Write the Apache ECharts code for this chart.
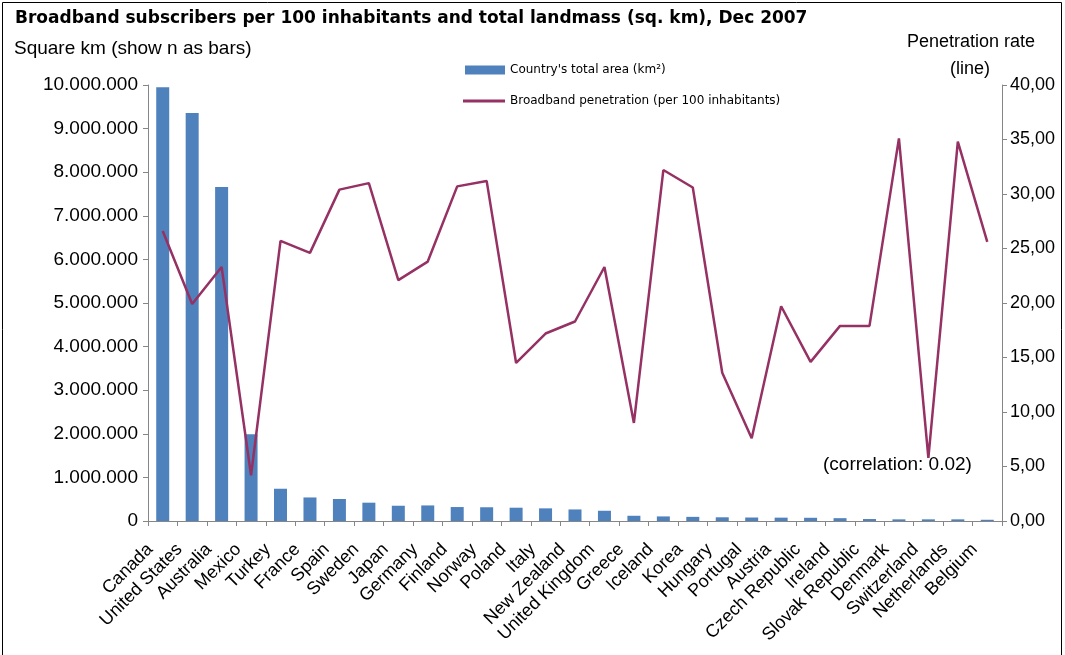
<!DOCTYPE html>
<html><head><meta charset="utf-8">
<script src="https://cdn.jsdelivr.net/npm/echarts@6/dist/echarts.min.js"></script>
<style>html,body{margin:0;padding:0;background:#fff}#c{width:1065px;height:655px}</style>
</head><body><div id="c"></div>
<script>
const countries = ['Canada','United States','Australia','Mexico','Turkey','France','Spain','Sweden','Japan','Germany','Finland','Norway','Poland','Italy','New Zealand','United Kingdom','Greece','Iceland','Korea','Hungary','Portugal','Austria','Czech Republic','Ireland','Slovak Republic','Denmark','Switzerland','Netherlands','Belgium'];
const areaKm2 = [9950000,9360000,7660000,1990000,740000,540000,505000,420000,350000,357000,320000,315000,305000,290000,265000,235000,120000,105000,95000,85000,80000,77000,74000,65000,45000,38000,38000,38000,28000];
const penetration = [26.6,19.9,23.3,4.2,25.7,24.6,30.4,31.0,22.1,23.8,30.7,31.2,14.5,17.2,18.3,23.3,9.0,32.2,30.6,13.6,7.6,19.7,14.6,17.9,17.9,35.1,5.8,34.8,25.6];
const leftTicks = {min:0, max:10000000, interval:1000000};
const rightTicks = {min:0, max:40, interval:5};

const chart = echarts.init(document.getElementById('c'));
const F = 'Liberation Sans, Arial, sans-serif';
const axisGray = '#868686';
const barName = "Country's total area (km²)";
const lineName = 'Broadband penetration (per 100 inhabitants)';
function dots(v){return String(Math.round(v)).replace(/\B(?=(\d{3})+(?!\d))/g,'.');}
chart.setOption({
  animation:false,
  title:{text:'Broadband subscribers per 100 inhabitants and total landmass (sq. km), Dec 2007',left:10,top:5,
    textStyle:{fontFamily:'DejaVu Sans',fontWeight:'bold',fontSize:17,color:'#000'}},
  legend:[
    {orient:'vertical',left:465,top:64,padding:0,itemWidth:40,itemHeight:9,itemGap:6,
     textStyle:{fontFamily:'DejaVu Sans',fontSize:12,color:'#000'},
     data:[{name:barName,icon:'rect'}]},
    {orient:'vertical',left:463,top:95,padding:0,itemWidth:42,itemHeight:3,itemGap:6,
     textStyle:{fontFamily:'DejaVu Sans',fontSize:12,color:'#000'},
     data:[{name:lineName,icon:'rect'}]}
  ],
  grid:{left:148,right:63,top:85,bottom:134},
  xAxis:{type:'category',data:countries,boundaryGap:true,
    axisLine:{lineStyle:{color:axisGray,width:1}},
    axisTick:{show:true,length:5,lineStyle:{color:axisGray}},
    axisLabel:{rotate:45,interval:0,fontFamily:F,fontSize:18,color:'#000',margin:13,padding:[0,18,0,0]}},
  yAxis:[
    {type:'value',min:leftTicks.min,max:leftTicks.max,interval:leftTicks.interval,splitLine:{show:false},
     axisLine:{show:true,lineStyle:{color:axisGray}},axisTick:{show:true,length:5,lineStyle:{color:axisGray}},
     axisLabel:{fontFamily:F,fontSize:19,color:'#000',margin:10,formatter:dots}},
    {type:'value',min:rightTicks.min,max:rightTicks.max,interval:rightTicks.interval,position:'right',splitLine:{show:false},
     axisLine:{show:true,lineStyle:{color:axisGray}},axisTick:{show:true,length:5,lineStyle:{color:axisGray}},
     axisLabel:{fontFamily:F,fontSize:18,color:'#000',margin:8,formatter:v=>v.toFixed(2).replace('.',',')}}
  ],
  series:[
    {name:barName,type:'bar',data:areaKm2,yAxisIndex:0,barWidth:13,itemStyle:{color:'#4F81BD'}},
    {name:lineName,type:'line',data:penetration,yAxisIndex:1,symbol:'none',
     lineStyle:{color:'#953163',width:2.5},itemStyle:{color:'#953163'}}
  ],
  graphic:[
    {type:'rect',shape:{x:2.5,y:2.5,width:1059,height:670},style:{fill:'none',stroke:'#000',lineWidth:1},silent:true},
    {type:'text',left:14,top:39,style:{text:'Square km (show n as bars)',font:'19px '+F,fill:'#000'}},
    {type:'text',right:30,top:33,style:{text:'Penetration rate',font:'18px '+F,fill:'#000'}},
    {type:'text',right:75,top:60,style:{text:'(line)',font:'18px '+F,fill:'#000'}},
    {type:'text',left:823,top:455,style:{text:'(correlation: 0.02)',font:'19px '+F,fill:'#000'}}
  ]
});
</script></body></html>
